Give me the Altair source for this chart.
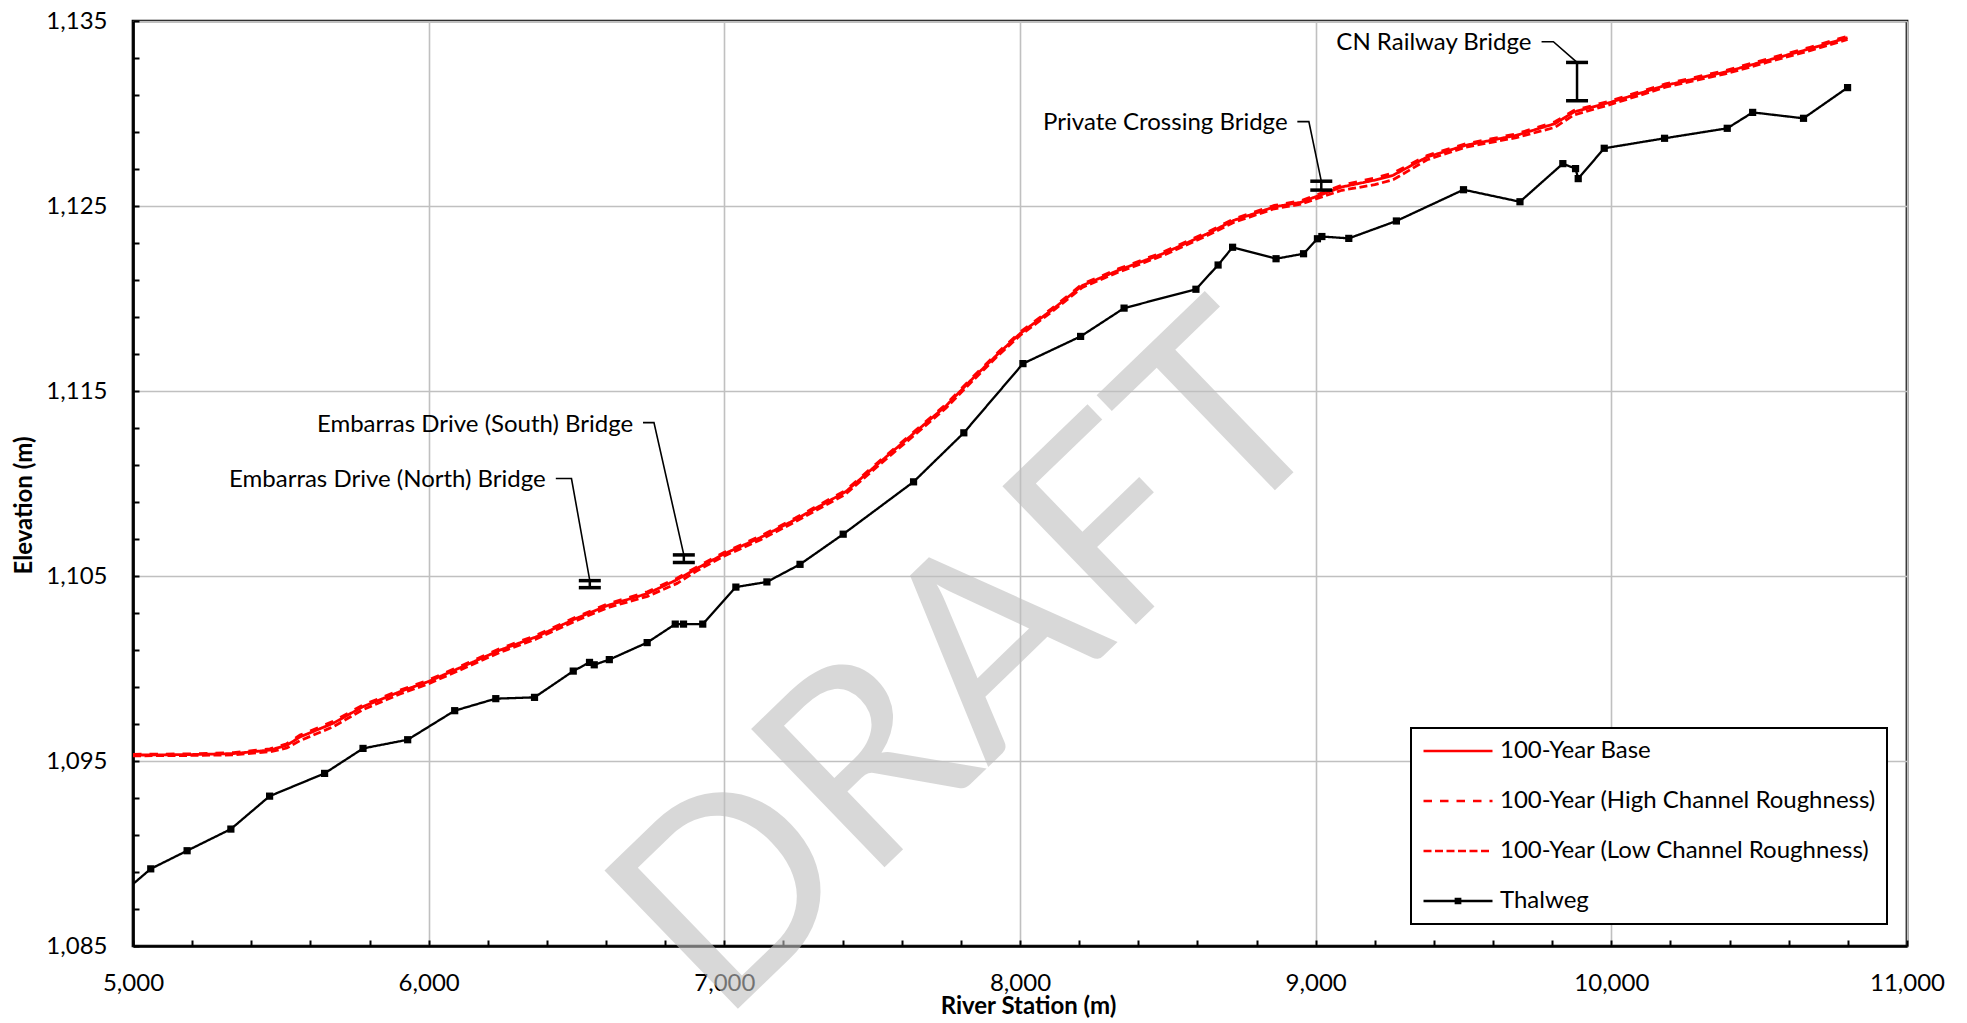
import altair as alt
import pandas as pd

FONT = "Lato"
FS = 24

SERIES = [
    "100-Year Base",
    "100-Year (High Channel Roughness)",
    "100-Year (Low Channel Roughness)",
    "Thalweg",
]

# Water surface profiles (river station in m, elevation in m)
wse_station = [5000, 5200, 5340, 5463, 5520, 5565, 5677, 5778, 5903, 6000,
               6129, 6242, 6362, 6498, 6604, 6740, 6840, 6906, 7000, 7125,
               7240, 7410, 7515, 7640, 7750, 7834, 7925, 8000, 8106, 8211,
               8332, 8483, 8633, 8724, 8860, 8950, 9000, 9089, 9200, 9262,
               9377, 9507, 9679, 9809, 9873, 10000, 10183, 10385, 10528, 10672,
               10799]
wse_base = [1095.32, 1095.35, 1095.4, 1095.59, 1095.85, 1096.3, 1097.04, 1097.94, 1098.75, 1099.3,
            1100.2, 1101.0, 1101.7, 1102.7, 1103.4, 1104.05, 1104.8, 1105.4, 1106.2, 1107.1,
            1108.05, 1109.55, 1111.0, 1112.7, 1114.2, 1115.58, 1117.0, 1118.1, 1119.36, 1120.7,
            1121.52, 1122.42, 1123.5, 1124.23, 1124.95, 1125.2, 1125.5, 1126.03, 1126.4, 1126.66,
            1127.65, 1128.28, 1128.82, 1129.45, 1130.08, 1130.62, 1131.52, 1132.24, 1132.87, 1133.5,
            1134.1]
wse_high = [1095.36, 1095.39, 1095.45, 1095.66, 1095.93, 1096.4, 1097.14, 1098.03, 1098.83, 1099.38,
            1100.28, 1101.08, 1101.78, 1102.78, 1103.48, 1104.15, 1104.88, 1105.48, 1106.28, 1107.18,
            1108.13, 1109.63, 1111.08, 1112.78, 1114.28, 1115.66, 1117.08, 1118.18, 1119.44, 1120.78,
            1121.6, 1122.5, 1123.58, 1124.31, 1125.03, 1125.28, 1125.58, 1126.13, 1126.52, 1126.78,
            1127.73, 1128.36, 1128.9, 1129.55, 1130.16, 1130.7, 1131.6, 1132.32, 1132.95, 1133.58,
            1134.18]
wse_low = [1095.28, 1095.3, 1095.33, 1095.5, 1095.7, 1096.1, 1096.85, 1097.78, 1098.62, 1099.18,
           1100.08, 1100.88, 1101.58, 1102.58, 1103.28, 1103.9, 1104.6, 1105.27, 1106.08, 1106.98,
           1107.93, 1109.42, 1110.88, 1112.58, 1114.08, 1115.46, 1116.9, 1118.0, 1119.26, 1120.6,
           1121.42, 1122.32, 1123.4, 1124.12, 1124.85, 1125.1, 1125.38, 1125.85, 1126.15, 1126.42,
           1127.5, 1128.18, 1128.7, 1129.25, 1129.92, 1130.5, 1131.42, 1132.14, 1132.77, 1133.4,
           1134.0]

# Thalweg (channel bed) profile
thalweg_station = [4960, 5060, 5183, 5331, 5462, 5648, 5778, 5929, 6088, 6227,
                   6358, 6489, 6544, 6560, 6611, 6739, 6834, 6862, 6927, 7039,
                   7144, 7256, 7402, 7640, 7810, 8010, 8205, 8352, 8595, 8670,
                   8719, 8866, 8959, 9006, 9021, 9112, 9273, 9500, 9691, 9836,
                   9879, 9888, 9976, 10180, 10392, 10478, 10650, 10799]
thalweg_elev = [1087.8, 1089.17, 1090.15, 1091.32, 1093.1, 1094.33, 1095.68, 1096.15, 1097.72, 1098.37,
                1098.44, 1099.86, 1100.33, 1100.2, 1100.48, 1101.4, 1102.4, 1102.4, 1102.4, 1104.4,
                1104.68, 1105.63, 1107.26, 1110.09, 1112.74, 1116.48, 1117.95, 1119.48, 1120.5, 1121.81,
                1122.77, 1122.15, 1122.42, 1123.23, 1123.35, 1123.25, 1124.19, 1125.88, 1125.23, 1127.29,
                1127.02, 1126.48, 1128.12, 1128.66, 1129.2, 1130.06, 1129.74, 1131.4]

# Bridges (deck bottom / top elevations) and their callouts
bridge_names = ["Embarras Drive (North) Bridge", "Embarras Drive (South) Bridge",
                "Private Crossing Bridge", "CN Railway Bridge"]
bridge_station = [6545, 6863, 9019, 9884]
bridge_low = [1104.37, 1105.73, 1125.86, 1130.69]
bridge_high = [1104.75, 1106.14, 1126.34, 1132.76]
label_station = [6396, 6692, 8905, 9730]
label_elev = [1110.2, 1113.16, 1129.47, 1133.8]
leader_start = [6430, 6725, 8938, 9764]
leader_elbow = [6483, 6762, 8977, 9804]
leader_elev = [1110.27, 1113.29, 1129.56, 1133.88]

watermark_text = ["DRAFT"]
watermark_station = [7848]
watermark_elev = [1100.0]

# ---------------------------------------------------------------- data frames
rows = []
for name, vals in zip(SERIES[:3], [wse_base, wse_high, wse_low]):
    for s, e in zip(wse_station, vals):
        rows.append({"series": name, "station": s, "elev": e})
wse_df = pd.DataFrame(rows)
thal_df = pd.DataFrame({"series": "Thalweg", "station": thalweg_station, "elev": thalweg_elev})

bridge_df = pd.DataFrame({"bridge": bridge_names, "station": bridge_station,
                          "low": bridge_low, "high": bridge_high,
                          "lx": label_station, "ly": label_elev})
lead_rows = []
for i, b in enumerate(bridge_names):
    pts = [(leader_start[i], leader_elev[i]), (leader_elbow[i], leader_elev[i]),
           (bridge_station[i], bridge_high[i])]
    for k, (s, e) in enumerate(pts):
        lead_rows.append({"bridge": b, "k": k, "station": s, "elev": e})
lead_df = pd.DataFrame(lead_rows)
wm_df = pd.DataFrame({"t": watermark_text, "station": watermark_station, "elev": watermark_elev})

# ---------------------------------------------------------------- scales / axes
x_scale = alt.Scale(domain=[5000, 11000], nice=False, zero=False)
y_scale = alt.Scale(domain=[1085, 1135], nice=False, zero=False)

x_axis = alt.Axis(
    values=list(range(5000, 11001, 200)),
    labelExpr="datum.value % 1000 === 0 ? format(datum.value, ',') : ''",
    grid=True, gridColor="#c0c0c0", gridWidth=1.6,
    gridOpacity={"condition": {"test": "datum.value % 1000 === 0", "value": 1}, "value": 0},
    tickSize={"expr": "-6"}, tickColor="black", tickWidth=2,
    domainColor="black", domainWidth=2.7,
    labelFont=FONT, labelFontSize=FS, labelColor="black", labelPadding=31,
    labelFlush=False, labelOverlap=False,
    title="River Station (m)", titleFont=FONT, titleFontSize=FS, titleFontWeight="bold",
    titleColor="black", titleX=895, titleY=67, titleAlign="center", titleBaseline="alphabetic",
)
y_axis = alt.Axis(
    values=list(range(1085, 1136, 2)),
    labelExpr="(datum.value - 1085) % 10 === 0 ? format(datum.value, ',') : ''",
    grid=True, gridColor="#c0c0c0", gridWidth=1.6,
    gridOpacity={"condition": {"test": "(datum.value - 1085) % 10 === 0", "value": 1}, "value": 0},
    tickSize={"expr": "-6"}, tickColor="black", tickWidth=2,
    domainColor="black", domainWidth=2.7,
    labelFont=FONT, labelFontSize=FS, labelColor="black", labelPadding=32,
    labelFlush=False, labelOverlap=False,
    title="Elevation (m)", titleFont=FONT, titleFontSize=FS, titleFontWeight="bold",
    titleColor="black", titleX=-102, titleY=484, titleAngle=270, titleAlign="center",
    titleBaseline="alphabetic",
)

X = alt.X("station:Q", scale=x_scale, axis=x_axis)
Y = alt.Y("elev:Q", scale=y_scale, axis=y_axis)

color_scale = alt.Scale(domain=SERIES, range=["#ff0000", "#ff0000", "#ff0000", "#000000"])
dash_scale = alt.Scale(domain=SERIES, range=[[1, 0], [8.5, 8], [8, 3.5], [1, 0]])
shape_scale = alt.Scale(domain=SERIES, range=[
    "M-1,0H1", "M-1,0H1", "M-1,0H1",
    "M-1,0H1M-0.06,-0.06H0.06V0.06H-0.06Z",
])

legend = alt.Legend(
    title=None, orient="none", legendX=1278, legendY=707, direction="vertical",
    labelFont=FONT, labelFontSize=FS, labelColor="black", labelOffset=6,
    fillColor="white", strokeColor="black", padding=11, rowPadding=26,
    symbolSize=4761, clipHeight=24, symbolStrokeWidth=2.6, symbolOpacity=1,
    labelLimit=600,
)

# ---------------------------------------------------------------- layers
watermark = alt.Chart(wm_df).mark_text(
    font=FONT, fontSize=268, angle=316, color="#bfbfbf", opacity=0.6,
    align="center", baseline="middle",
).encode(x=X, y=Y, text="t:N")

wse_lines = alt.Chart(wse_df).mark_line(strokeWidth=2.8, clip=True).encode(
    x=X, y=Y,
    color=alt.Color("series:N", scale=color_scale, legend=None),
    strokeDash=alt.StrokeDash("series:N", scale=dash_scale, legend=None),
    detail="series:N",
)

thal_line = alt.Chart(thal_df).mark_line(strokeWidth=2.3, clip=True).encode(
    x=X, y=Y,
    color=alt.Color("series:N", scale=color_scale, legend=None),
    strokeDash=alt.StrokeDash("series:N", scale=dash_scale, legend=None),
)

thal_pts = alt.Chart(thal_df).mark_point(
    shape="square", filled=True, size=52, color="black", opacity=1, clip=True
).encode(x=X, y=Y)

legend_layer = alt.Chart(thal_df).transform_filter("false").mark_point(
    filled=False, strokeWidth=2.6, opacity=1
).encode(
    x=X, y=Y,
    color=alt.Color("series:N", scale=color_scale, legend=legend),
    strokeDash=alt.StrokeDash("series:N", scale=dash_scale, legend=legend),
    shape=alt.Shape("series:N", scale=shape_scale, legend=legend),
)

bridge_rule = alt.Chart(bridge_df).mark_rule(color="black", strokeWidth=2.5).encode(
    x=alt.X("station:Q", scale=x_scale, axis=x_axis),
    y=alt.Y("low:Q", scale=y_scale, axis=y_axis), y2="high:Q",
)
cap_low = alt.Chart(bridge_df).mark_tick(
    orient="horizontal", color="black", size=22, thickness=3.5, opacity=1
).encode(x=alt.X("station:Q", scale=x_scale, axis=x_axis),
         y=alt.Y("low:Q", scale=y_scale, axis=y_axis))
cap_high = alt.Chart(bridge_df).mark_tick(
    orient="horizontal", color="black", size=22, thickness=3.5, opacity=1
).encode(x=alt.X("station:Q", scale=x_scale, axis=x_axis),
         y=alt.Y("high:Q", scale=y_scale, axis=y_axis))

leaders = alt.Chart(lead_df).mark_line(color="black", strokeWidth=1.6).encode(
    x=X, y=Y, detail="bridge:N", order="k:Q",
)

labels = alt.Chart(bridge_df).mark_text(
    font=FONT, fontSize=FS, color="black", align="right", baseline="middle",
).encode(
    x=alt.X("lx:Q", scale=x_scale, axis=x_axis),
    y=alt.Y("ly:Q", scale=y_scale, axis=y_axis),
    text="bridge:N",
)

chart = alt.layer(
    watermark, wse_lines, thal_line, thal_pts, legend_layer,
    leaders, bridge_rule, cap_low, cap_high, labels,
).resolve_legend(
    color="independent", strokeDash="independent", shape="independent",
).properties(
    width=1774, height=925,
    padding={"left": 125, "top": 13, "right": 40, "bottom": 74},
    autosize=alt.AutoSizeParams(type="none"),
    background="white",
).configure_view(
    stroke="black", strokeWidth=2.7,
).configure_legend(
    strokeWidth=2,
)

chart.save("out.html", embed_options={"renderer": "svg", "actions": False})
